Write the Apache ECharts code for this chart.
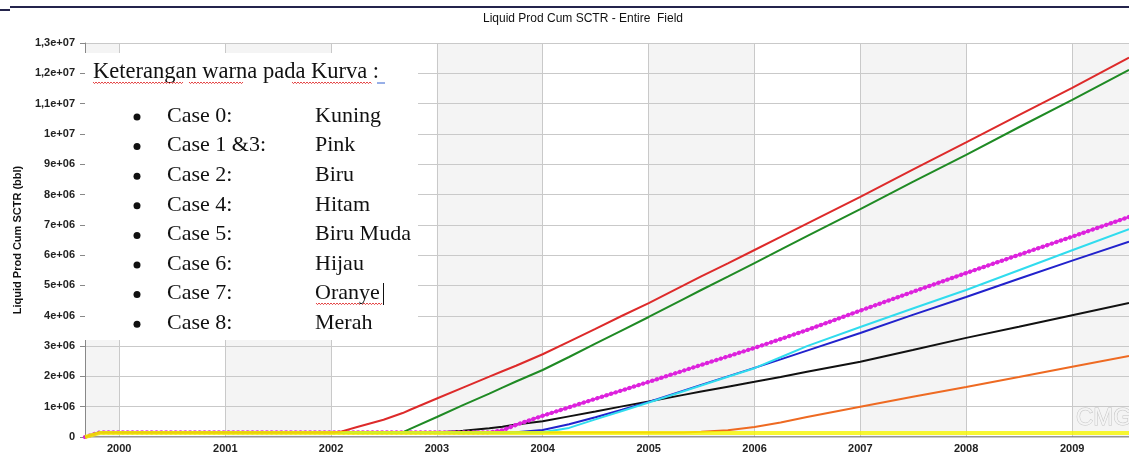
<!DOCTYPE html>
<html>
<head>
<meta charset="utf-8">
<script src="https://cdn.jsdelivr.net/npm/echarts@6/dist/echarts.min.js"></script>
<style>
  html, body { margin: 0; padding: 0; background: #ffffff; }
  #chart { width: 1129px; height: 459px; }
</style>
</head>
<body>
<div id="chart"></div>
<script>
// Sample dates shared by every case (cumulative liquid production, bbl)
const dates = [
  '1999-09-05','1999-10-25','2002-01-01','2002-02-01','2002-04-01','2002-07-01',
  '2002-09-05','2002-10-01','2003-01-01','2003-04-01','2003-07-01','2003-08-15',
  '2003-10-01','2004-01-01','2004-04-01','2004-07-01','2004-10-01','2005-01-01',
  '2005-05-01','2005-07-01','2005-10-01','2006-01-01','2006-04-01','2006-07-01',
  '2007-01-01','2007-07-01','2008-01-01','2008-07-01','2009-01-01','2009-07-16'
];

// Case 0 (Kuning)
const case0 = [0,0.13e6,0.13e6,0.13e6,0.13e6,0.13e6,0.13e6,0.13e6,0.13e6,0.13e6,0.13e6,0.13e6,
  0.13e6,0.13e6,0.13e6,0.13e6,0.13e6,0.13e6,0.13e6,0.13e6,0.13e6,0.13e6,0.13e6,0.13e6,
  0.13e6,0.13e6,0.13e6,0.13e6,0.13e6,0.13e6];
// Case 1 & 3 (Pink)
const case13 = [0,0.15e6,0.15e6,0.15e6,0.15e6,0.15e6,0.15e6,0.15e6,0.15e6,0.15e6,0.15e6,0.22e6,
  0.40e6,0.70e6,0.98e6,1.26e6,1.54e6,1.82e6,2.19e6,2.38e6,2.66e6,2.94e6,3.23e6,3.53e6,
  4.17e6,4.79e6,5.41e6,6.01e6,6.61e6,7.26e6];
// Case 2 (Biru)
const case2 = [0,0.15e6,0.15e6,0.15e6,0.15e6,0.15e6,0.15e6,0.15e6,0.15e6,0.15e6,0.15e6,0.15e6,
  0.16e6,0.23e6,0.42e6,0.65e6,0.90e6,1.16e6,1.53e6,1.72e6,2.00e6,2.28e6,2.56e6,2.85e6,
  3.43e6,4.03e6,4.62e6,5.22e6,5.82e6,6.44e6];
// Case 4 (Hitam)
const case4 = [0,0.15e6,0.15e6,0.15e6,0.15e6,0.15e6,0.15e6,0.15e6,0.15e6,0.21e6,0.29e6,0.34e6,
  0.41e6,0.52e6,0.68e6,0.84e6,1.01e6,1.17e6,1.39e6,1.50e6,1.66e6,1.82e6,1.98e6,2.15e6,
  2.48e6,2.87e6,3.27e6,3.64e6,4.02e6,4.42e6];
// Case 5 (Biru Muda)
const case5 = [0,0.15e6,0.15e6,0.15e6,0.15e6,0.15e6,0.15e6,0.15e6,0.15e6,0.15e6,0.15e6,0.15e6,
  0.15e6,0.16e6,0.30e6,0.58e6,0.86e6,1.14e6,1.51e6,1.70e6,1.99e6,2.27e6,2.63e6,3.00e6,
  3.63e6,4.24e6,4.85e6,5.50e6,6.16e6,6.86e6];
// Case 6 (Hijau)
const case6 = [0,0.15e6,0.15e6,0.15e6,0.15e6,0.15e6,0.15e6,0.27e6,0.66e6,1.05e6,1.43e6,1.63e6,
  1.83e6,2.21e6,2.64e6,3.08e6,3.52e6,3.96e6,4.55e6,4.85e6,5.29e6,5.74e6,6.18e6,6.63e6,
  7.52e6,8.42e6,9.31e6,10.22e6,11.12e6,12.11e6];
// Case 7 (Oranye)
const case7 = [0,0.15e6,0.15e6,0.15e6,0.15e6,0.15e6,0.15e6,0.15e6,0.15e6,0.15e6,0.15e6,0.15e6,
  0.15e6,0.15e6,0.15e6,0.15e6,0.15e6,0.15e6,0.15e6,0.17e6,0.22e6,0.33e6,0.48e6,0.66e6,
  1.00e6,1.33e6,1.65e6,1.98e6,2.32e6,2.67e6];
// Case 8 (Merah)
const case8 = [0,0.15e6,0.15e6,0.17e6,0.33e6,0.57e6,0.79e6,0.90e6,1.27e6,1.63e6,1.99e6,2.17e6,
  2.35e6,2.73e6,3.15e6,3.57e6,4.00e6,4.42e6,5.00e6,5.30e6,5.73e6,6.17e6,6.60e6,7.04e6,
  7.92e6,8.82e6,9.72e6,10.62e6,11.52e6,12.52e6];

// Legend text box rows
const legendTitle = 'Keterangan warna pada Kurva :';
const legendCases = ['Case 0:','Case 1 &3:','Case 2:','Case 4:','Case 5:','Case 6:','Case 7:','Case 8:'];
const legendColors = ['Kuning','Pink','Biru','Hitam','Biru Muda','Hijau','Oranye','Merah'];

const pairs = vals => dates.map((d, i) => [d, vals[i]]);

function sciLabel(v) {
  if (v === 0) return '0';
  const e = Math.floor(Math.log10(v) + 1e-9);
  const m = Math.round(v / Math.pow(10, e) * 10) / 10;
  const ms = Number.isInteger(m) ? String(m) : String(m).replace('.', ',');
  return ms + 'e+' + String(e).padStart(2, '0');
}

function lineSeries(name, vals, color, width, extra) {
  return Object.assign({
    name: name, type: 'line', data: pairs(vals), showSymbol: false, symbol: 'none',
    lineStyle: { color: color, width: width }, itemStyle: { color: color },
    emphasis: { disabled: true }, silent: true
  }, extra || {});
}

// red spell-check squiggle under a word
function squiggle(x0, x1, y) {
  const pts = [];
  let up = true;
  for (let x = x0; x <= x1; x += 1.5) { pts.push([x, up ? y : y + 1.6]); up = !up; }
  return { type: 'polyline', shape: { points: pts }, style: { stroke: '#e03030', lineWidth: 0.9, fill: null }, z: 101 };
}

const serif = '"Liberation Serif", "DejaVu Serif", serif';
const legendEls = [
  { type: 'rect', shape: { x: 85, y: 53, width: 333, height: 287 }, style: { fill: '#ffffff' }, z: 100 },
  { type: 'text', x: 93, y: 72, style: { text: legendTitle, font: '22.5px ' + serif, fill: '#111', verticalAlign: 'middle' }, z: 101 },
  squiggle(93, 184, 82), squiggle(189, 243, 82), squiggle(292, 372, 82),
  { type: 'line', shape: { x1: 377, y1: 83, x2: 385, y2: 83 }, style: { stroke: '#3060d0', lineWidth: 1 }, z: 101 },
  squiggle(316, 382, 303),
  { type: 'line', shape: { x1: 383.5, y1: 283, x2: 383.5, y2: 305 }, style: { stroke: '#111', lineWidth: 1 }, z: 101 }
];
legendCases.forEach((c, i) => {
  const y = 116 + i * 29.6;
  legendEls.push({ type: 'circle', shape: { cx: 137, cy: y + 1, r: 3.5 }, style: { fill: '#111' }, z: 101 });
  legendEls.push({ type: 'text', x: 167, y: y, style: { text: c, font: '22px ' + serif, fill: '#111', verticalAlign: 'middle' }, z: 101 });
  legendEls.push({ type: 'text', x: 315, y: y, style: { text: legendColors[i], font: '22px ' + serif, fill: '#111', verticalAlign: 'middle' }, z: 101 });
});

const chart = echarts.init(document.getElementById('chart'), null, { renderer: 'canvas' });
chart.setOption({
  animation: false,
  backgroundColor: '#ffffff',
  title: {
    text: 'Liquid Prod Cum SCTR - Entire  Field',
    left: 578, top: 8, textAlign: 'center',
    textStyle: { fontFamily: '"Liberation Sans", Arial, sans-serif', fontSize: 12, fontWeight: 'normal', color: '#111' }
  },
  grid: { left: 85, right: 0, top: 43, bottom: 22, containLabel: false },
  xAxis: {
    type: 'time', z: 0,
    min: '1999-09-05', max: '2009-07-16',
    minInterval: 365 * 24 * 3600 * 1000, maxInterval: 366 * 24 * 3600 * 1000,
    axisLine: { show: true, lineStyle: { color: '#777', width: 1.5 } },
    axisTick: { show: false },
    axisLabel: {
      margin: 6, color: '#222', fontSize: 11, fontWeight: 'bold',
      fontFamily: '"Liberation Sans", Arial, sans-serif',
      formatter: function (v) {
        const d = new Date(v);
        return (d.getMonth() === 0 && d.getDate() === 1) ? String(d.getFullYear()) : '';
      }
    },
    splitLine: { show: true, lineStyle: { color: '#c9c9c9', width: 1 } },
    splitArea: { show: true, areaStyle: { color: ['#f4f4f4', '#ffffff'] } }
  },
  yAxis: {
    type: 'value', min: 0, max: 1.3e7, interval: 1e6, z: 1,
    name: 'Liquid Prod Cum SCTR (bbl)', nameLocation: 'middle', nameGap: 62, nameRotate: 90,
    nameTextStyle: { fontFamily: '"Liberation Sans", Arial, sans-serif', fontSize: 11, fontWeight: 'bold', color: '#111' },
    axisLine: { show: true, lineStyle: { color: '#888', width: 1 } },
    axisTick: { show: true, length: 5, lineStyle: { color: '#888' } },
    axisLabel: {
      margin: 10, color: '#222', fontSize: 11, fontWeight: 'bold',
      fontFamily: '"Liberation Sans", Arial, sans-serif', formatter: sciLabel
    },
    splitLine: { show: true, lineStyle: { color: '#c9c9c9', width: 1 } }
  },
  series: [
    lineSeries('Case 4', case4, '#111111', 2),
    lineSeries('Case 2', case2, '#2222cc', 2),
    lineSeries('Case 1 &3', case13, '#dd22dd', 2),
    lineSeries('Case 1 &3 markers', case13, '#dd22dd', 4.2,
      { lineStyle: { color: '#dd22dd', width: 4.2, type: [0.4, 4.4], cap: 'round' } }),
    lineSeries('Case 6', case6, '#1f8a24', 2),
    lineSeries('Case 7', case7, '#ee6a22', 2),
    lineSeries('Case 5', case5, '#30dcee', 2),
    lineSeries('Case 8', case8, '#dd2a2a', 2),
    lineSeries('Case 0', case0, '#f6f600', 4, { lineStyle: { color: '#f6f600', width: 4, opacity: 0.8 } })
  ],
  graphic: [
    { type: 'line', shape: { x1: 10, y1: 7, x2: 1129, y2: 7 }, style: { stroke: '#24244c', lineWidth: 2 }, z: 50 },
    { type: 'line', shape: { x1: 0, y1: 10, x2: 10, y2: 10 }, style: { stroke: '#24244c', lineWidth: 2 }, z: 50 },
    { type: 'text', x: 1076, y: 418, style: { text: 'CMG', font: '24px "Liberation Sans", Arial, sans-serif', fill: '#f4f4f4', stroke: '#c4c4c4', lineWidth: 1, verticalAlign: 'middle' }, z: 50 },
    { type: 'group', children: legendEls, z: 100 }
  ]
});
</script>
</body>
</html>
